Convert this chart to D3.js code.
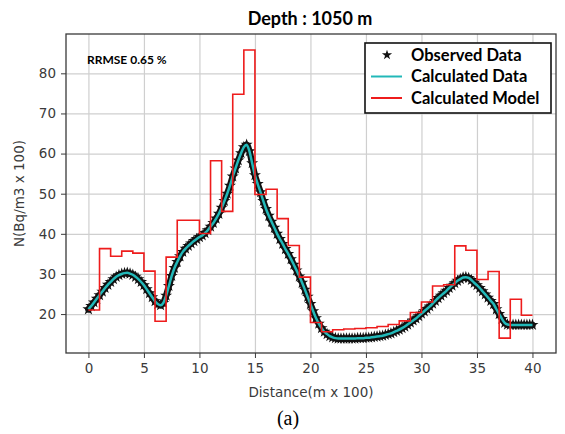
<!DOCTYPE html>
<head>
  <meta charset="utf-8">
  <script src="https://d3js.org/d3.v7.min.js"></script>
  <style>
    body { margin: 0; background: #fff; }
    .axis text { font-family: "DejaVu Sans", sans-serif; font-size: 13.5px; fill: #3a3a3a; }
    .axis path, .axis line { stroke: #3a3a3a; }
    .grid line { stroke: #cfcfcf; stroke-width: 1.2; }
    .grid path { display: none; }
  </style>
</head>
<body>
<svg width="565" height="434"></svg>
<script>
// x ticks / y ticks
var xTicks = [0, 5, 10, 15, 20, 25, 30, 35, 40];
var yTicks = [20, 30, 40, 50, 60, 70, 80];

// calculated model: one value per 1-unit block, 0..40
var modelValues = [21.0, 36.3, 34.4, 35.7, 35.2, 30.7, 18.2, 34.2, 43.4, 43.4,
                   40.1, 58.2, 45.6, 74.8, 85.8, 49.8, 51.1, 43.8, 37.1, 29.2,
                   17.9, 15.6, 16.1, 16.3, 16.4, 16.6, 16.9, 17.4, 18.3, 20.4,
                   23.0, 27.0, 27.3, 37.0, 35.9, 28.6, 30.6, 14.0, 23.7, 19.7];

// observed data, sampled every 0.25 from 0 to 40
var observed = [
  21.2, 22.0, 22.9, 23.8, 24.7, 25.6, 26.5, 27.3, 28.0, 28.7, 29.3, 29.7,
  30.0, 30.2, 30.3, 30.1, 29.8, 29.3, 28.7, 28.0, 27.2, 26.2, 25.2, 24.2,
  23.2, 22.5, 22.2, 22.8, 24.6, 27.0, 29.5, 31.5, 33.0, 34.4, 35.5, 36.3,
  37.0, 37.6, 38.2, 38.7, 39.2, 39.6, 40.2, 40.9, 41.8, 42.7, 43.8, 45.0,
  46.5, 48.2, 50.0, 52.0, 54.3, 56.3, 58.3, 60.1, 61.6, 62.2, 60.6, 57.6,
  54.6, 52.4, 50.4, 48.2, 46.2, 44.5, 43.0, 41.5, 40.0, 38.7, 37.5, 36.2,
  35.0, 33.7, 32.3, 30.9, 29.4, 27.8, 26.1, 24.3, 22.5, 20.7, 19.0, 17.6,
  16.5, 15.6, 15.0, 14.5, 14.2, 14.0, 13.9, 13.9, 13.9, 13.9, 13.9, 13.9,
  13.9, 14.0, 14.0, 14.0, 14.1, 14.1, 14.2, 14.3, 14.4, 14.5, 14.6, 14.8,
  15.0, 15.2, 15.5, 15.8, 16.1, 16.5, 16.9, 17.4, 17.9, 18.4, 18.9, 19.5,
  20.1, 20.7, 21.3, 21.9, 22.6, 23.3, 24.0, 24.6, 25.2, 25.8, 26.5, 27.1,
  27.7, 28.3, 28.7, 29.1, 29.2, 29.0, 28.5, 27.8, 27.2, 26.5, 25.7, 24.9,
  24.1, 23.3, 22.5, 21.2, 20.0, 18.8, 17.8, 17.4, 17.3, 17.3, 17.3, 17.3,
  17.3, 17.3, 17.3, 17.3, 17.3
];
var obsStep = 0.25;

var svg = d3.select("svg");
var plotL = 66, plotR = 556, plotT = 34, plotB = 353;

var x = d3.scaleLinear().domain([-2.02, 42.12]).range([plotL, plotR]);
var y = d3.scaleLinear().domain([10.3, 89.8]).range([plotB, plotT]);

// grid
svg.append("g").attr("class", "grid")
    .attr("transform", "translate(0," + plotB + ")")
    .call(d3.axisBottom(x).tickValues(xTicks).tickSize(-(plotB - plotT)).tickFormat(""));
svg.append("g").attr("class", "grid")
    .attr("transform", "translate(" + plotL + ",0)")
    .call(d3.axisLeft(y).tickValues(yTicks).tickSize(-(plotR - plotL)).tickFormat(""));

// axes
svg.append("g").attr("class", "axis")
    .attr("transform", "translate(0," + plotB + ")")
    .call(d3.axisBottom(x).tickValues(xTicks).tickSize(5).tickPadding(5).tickSizeOuter(0));
svg.append("g").attr("class", "axis")
    .attr("transform", "translate(" + plotL + ",0)")
    .call(d3.axisLeft(y).tickValues(yTicks).tickSize(5).tickPadding(5).tickSizeOuter(0));
svg.selectAll(".axis .domain").remove();

var obsData = observed.map(function(v, i) { return {d: i * obsStep, v: v}; });
var line = d3.line()
    .x(function(d) { return x(d.d); })
    .y(function(d) { return y(d.v); })
    .curve(d3.curveMonotoneX);

// observed markers: dense stars form a dark band
svg.append("path")
    .datum(obsData)
    .attr("d", line)
    .attr("fill", "none")
    .attr("stroke", "#111")
    .attr("stroke-width", 6.5)
    .attr("stroke-linecap", "round");
var bigStar = d3.symbol().type(d3.symbolStar).size(45);
svg.append("g").selectAll("path")
    .data(obsData)
  .enter().append("path")
    .attr("d", bigStar)
    .attr("transform", function(d) { return "translate(" + x(d.d) + "," + y(d.v) + ")"; })
    .attr("fill", "#111");

// calculated data line
svg.append("path")
    .datum(obsData)
    .attr("d", line)
    .attr("fill", "none")
    .attr("stroke", "#22b8b8")
    .attr("stroke-width", 2.5);

// calculated model (steps)
var modelData = modelValues.map(function(v, i) { return {d: i, v: v}; });
modelData.push({d: modelValues.length, v: modelValues[modelValues.length - 1]});
var stepLine = d3.line()
    .x(function(d) { return x(d.d); })
    .y(function(d) { return y(d.v); })
    .curve(d3.curveStepAfter);
svg.append("path")
    .datum(modelData)
    .attr("d", stepLine)
    .attr("fill", "none")
    .attr("stroke", "#ee1c1c")
    .attr("stroke-width", 1.6);

// frame
svg.append("rect")
    .attr("x", plotL).attr("y", plotT)
    .attr("width", plotR - plotL).attr("height", plotB - plotT)
    .attr("fill", "none").attr("stroke", "#3a3a3a").attr("stroke-width", 1.3);

// title and labels
svg.append("text")
    .attr("x", 310).attr("y", 25)
    .attr("text-anchor", "middle")
    .style("font-family", "Lato, sans-serif").style("font-weight", "bold").style("font-size", "18px")
    .text("Depth : 1050 m");

svg.append("text")
    .attr("transform", "translate(24," + ((plotT + plotB) / 2) + ") rotate(-90)")
    .attr("text-anchor", "middle")
    .style("font-family", "DejaVu Sans, sans-serif").style("font-size", "13.5px").style("fill", "#3a3a3a")
    .text("N(Bq/m3 x 100)");

svg.append("text")
    .attr("x", (plotL + plotR) / 2).attr("y", 397)
    .attr("text-anchor", "middle")
    .style("font-family", "DejaVu Sans, sans-serif").style("font-size", "13.5px").style("fill", "#3a3a3a")
    .text("Distance(m x 100)");

svg.append("text")
    .attr("x", 288).attr("y", 425)
    .attr("text-anchor", "middle")
    .style("font-family", "Liberation Serif, serif").style("font-size", "20px")
    .text("(a)");

svg.append("text")
    .attr("x", 87).attr("y", 64)
    .style("font-family", "Lato, sans-serif").style("font-weight", "bold").style("font-size", "12px")
    .text("RRMSE 0.65 %");

// legend
var star = d3.symbol().type(d3.symbolStar).size(32);
var lg = svg.append("g");
lg.append("rect")
    .attr("x", 365).attr("y", 43).attr("width", 186).attr("height", 70)
    .attr("fill", "#fff").attr("stroke", "#111").attr("stroke-width", 1.6);
var legendItems = ["Observed Data", "Calculated Data", "Calculated Model"];
legendItems.forEach(function(name, i) {
  var cy = 55 + i * 21.5;
  if (i === 0) {
    lg.append("path").attr("d", star)
      .attr("transform", "translate(387," + cy + ")").attr("fill", "#111");
  } else {
    lg.append("line").attr("x1", 371).attr("x2", 402).attr("y1", cy).attr("y2", cy)
      .attr("stroke", i === 1 ? "#22b8b8" : "#ee1c1c").attr("stroke-width", 2);
  }
  lg.append("text").attr("x", 411).attr("y", cy + 5.8)
    .style("font-family", "Lato, sans-serif").style("font-weight", "bold").style("font-size", "16.5px")
    .text(name);
});
</script>
</body>
